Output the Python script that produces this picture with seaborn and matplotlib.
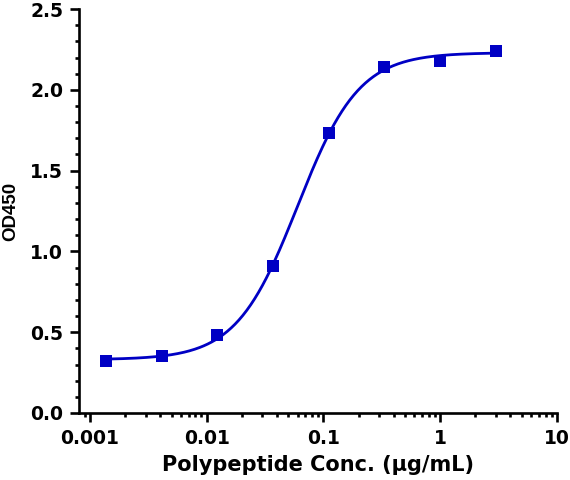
import numpy as np
import pandas as pd
import matplotlib
matplotlib.use("Agg")
import matplotlib.pyplot as plt
import seaborn as sns
from matplotlib.font_manager import FontProperties
from matplotlib.ticker import LogLocator, MultipleLocator, FixedFormatter, FixedLocator

# data
conc = [0.00137, 0.0041, 0.0123, 0.037, 0.111, 0.333, 1.0, 3.0]
od450 = [0.32, 0.35, 0.48, 0.91, 1.73, 2.14, 2.18, 2.24]

# 4PL fit parameters (estimated from the drawn curve)
fit_bottom = 0.33
fit_top = 2.23
fit_ec50 = 0.06
fit_hill = 1.65

x_ticks = [0.001, 0.01, 0.1, 1, 10]
x_ticklabels = ["0.001", "0.01", "0.1", "1", "10"]
y_ticks = [0.0, 0.5, 1.0, 1.5, 2.0, 2.5]
y_ticklabels = ["0.0", "0.5", "1.0", "1.5", "2.0", "2.5"]

sns.set_style("ticks")
plt.rcParams["font.family"] = ["DejaVu Sans"]
plt.rcParams["font.weight"] = "bold"
plt.rcParams["text.color"] = "black"
plt.rcParams["axes.labelcolor"] = "black"

blue = "#0000C4"

df_pts = pd.DataFrame({"conc": conc, "od": od450})
xs = np.logspace(np.log10(conc[0]), np.log10(conc[-1]), 300)
ys = fit_bottom + (fit_top - fit_bottom) / (1 + (fit_ec50 / xs) ** fit_hill)
df_fit = pd.DataFrame({"conc": xs, "od": ys})

fig = plt.figure(figsize=(5.7, 4.8), dpi=100)
ax = fig.add_axes([0.1386, 0.1396, 0.8384, 0.8416])

sns.lineplot(data=df_fit, x="conc", y="od", color=blue, linewidth=2, ax=ax)
sns.scatterplot(data=df_pts, x="conc", y="od", color=blue, marker="s", s=85,
                edgecolor=blue, linewidth=0, ax=ax, zorder=3)

ax.set_xscale("log")
ax.set_xlim(0.000805, 10)
ax.set_ylim(0, 2.5)

ax.xaxis.set_major_locator(FixedLocator(x_ticks))
ax.xaxis.set_major_formatter(FixedFormatter(x_ticklabels))
ax.xaxis.set_minor_locator(LogLocator(base=10, subs=np.arange(2, 10), numticks=20))
ax.yaxis.set_major_locator(FixedLocator(y_ticks))
ax.yaxis.set_major_formatter(FixedFormatter(y_ticklabels))
ax.yaxis.set_minor_locator(MultipleLocator(0.1))

for side in ["top", "right"]:
    ax.spines[side].set_visible(False)
for side in ["left", "bottom"]:
    ax.spines[side].set_linewidth(1.9)
    ax.spines[side].set_color("black")

ax.tick_params(which="major", direction="out", length=6.5, width=1.9, pad=5,
               labelsize=13.5, colors="black", labelcolor="black")
ax.tick_params(which="minor", direction="out", length=3.2, width=1.9, colors="black")
for lab in ax.get_xticklabels() + ax.get_yticklabels():
    lab.set_fontweight("bold")

ax.set_xlabel("Polypeptide Conc. (µg/mL)", fontsize=15, fontweight="bold",
              color="black", labelpad=5)
ylab_font = FontProperties(family="Liberation Sans", weight="bold", size=13.5)
ax.set_ylabel("OD450", fontproperties=ylab_font, color="black", labelpad=8)

fig.savefig("out.png", dpi=100)
